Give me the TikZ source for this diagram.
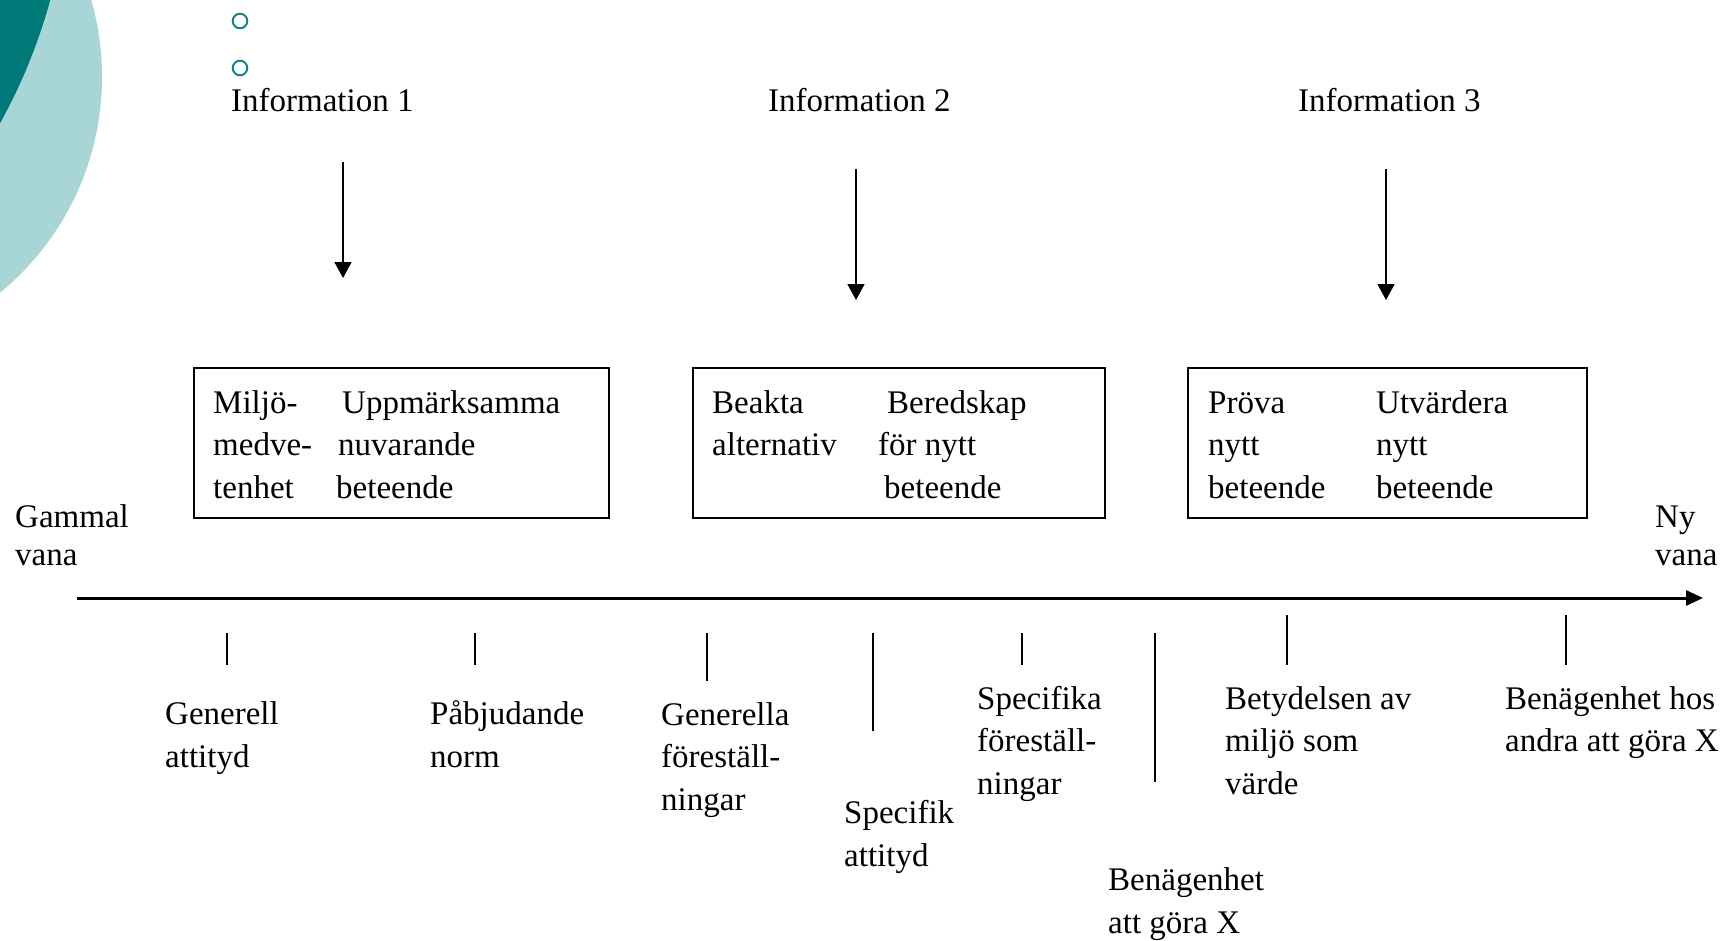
\documentclass[tikz,border=0pt]{standalone}
\usepackage{fontspec}
\setmainfont{Liberation Serif}
\usepackage{xcolor}
\usepackage{tikz}
\usetikzlibrary{arrows.meta}
\definecolor{darkteal}{RGB}{0,122,120}
\definecolor{lightteal}{RGB}{168,214,214}
\definecolor{ringteal}{RGB}{20,136,136}
\tikzset{%
  every word/.style={
    inner sep=0pt,
    anchor=base west,
    align=left,
    font=\fontsize{33}{42.5}\selectfont
  },
  vana word/.style={
    every word,
    font=\fontsize{33}{38}\selectfont
  },
  stage box/.style={
    draw,
    line width=2.4pt,
    anchor=north west,
    inner sep=0pt,
    minimum height=150pt
  },
  bullet ring/.style={
    circle,
    draw=ringteal,
    line width=2pt,
    inner sep=0pt,
    minimum size=14.6pt
  },
  tick mark/.style={
    line width=2pt
  },
}

\begin{document}
\begin{tikzpicture}[x=1pt,y=-1pt]
    \useasboundingbox (0,0) rectangle (1728,941);
    \fill[white] (0,0) rectangle (1728,941);
    \begin{scope}
      \clip (0,0) rectangle (1728,941);
      \fill[lightteal] (-177,77) circle[radius=279pt];
      \fill[darkteal] (-490,-148) circle[radius=560pt];
    \end{scope}

    \node (dot1) [bullet ring] at (240,21) {};
    \node (dot2) [bullet ring] at (240,68) {};

    \node (info1) [every word] at (231,112) {Information 1};
    \node (info2) [every word] at (768,112) {Information 2};
    \node (info3) [every word] at (1298,112) {Information 3};

    \coordinate (in1) at (343,162);
    \coordinate (out1) at (343,278);
    \coordinate (in2) at (856,169);
    \coordinate (out2) at (856,300);
    \coordinate (in3) at (1386,169);
    \coordinate (out3) at (1386,300);

    \draw   [line width=1.8pt,-{Triangle[length=16pt,width=17pt]}] (in1)--(out1);
    \draw   [line width=1.8pt,-{Triangle[length=16pt,width=17pt]}] (in2)--(out2);
    \draw   [line width=1.8pt,-{Triangle[length=16pt,width=17pt]}] (in3)--(out3);

    % the three stages (text nodes sit on the baseline of their last line)
    \node (box1) [stage box,minimum width=415pt] at (193,367) {};
    \node (box2) [stage box,minimum width=412pt] at (692,367) {};
    \node (box3) [stage box,minimum width=399pt] at (1187,367) {};

    \node (aware) [every word] at (213,498) {Miljö-\\medve-\\tenhet};
    \node (notice) [every word] at (336,498) 
    {\hspace{6pt}Uppmärksamma\\\hspace{2pt}nuvarande\\beteende};
    \node (consider) [every word] at (712,455.5) {Beakta\\alternativ};
    \node (ready) [every word] at (878,498) 
    {\hspace{9pt}Beredskap\\för nytt\\\hspace{6pt}beteende};
    \node (try) [every word] at (1208,498) {Pröva\\nytt\\beteende};
    \node (judge) [every word] at (1376,498) {Utvärdera\\nytt\\beteende};

    \node (oldhabit) [vana word] at (15,565) {Gammal\\vana};
    \node (newhabit) [vana word] at (1655,565) {Ny\\vana};

    \coordinate (start) at (77,598);
    \coordinate (end) at (1703,598);
    \draw   [line width=3pt,-{Triangle[length=17pt,width=15pt]}] (start)--(end);

    % ticks under the time line
    \draw   [tick mark] (227,633)--(227,665);
    \draw   [tick mark] (475,633)--(475,665);
    \draw   [tick mark] (707,633)--(707,681);
    \draw   [tick mark] (873,633)--(873,731);
    \draw   [tick mark] (1022,633)--(1022,665);
    \draw   [tick mark] (1155,633)--(1155,782);
    \draw   [tick mark] (1287,615)--(1287,665);
    \draw   [tick mark] (1566,615)--(1566,665);

    \node (genatt) [every word] at (165,767) {Generell\\attityd};
    \node (norm) [every word] at (430,767) {Påbjudande\\norm};
    \node (genbel) [every word] at (661,810) {Generella\\föreställ-\\ningar};
    \node (specatt) [every word] at (844,866) {Specifik\\attityd};
    \node (specbel) [every word] at (977,794) {Specifika\\föreställ-\\ningar};
    \node (intent) [every word] at (1108,933) {Benägenhet\\att göra X};
    \node (value) [every word] at (1225,794) {Betydelsen av\\miljö som\\värde};
    \node (others) [every word] at (1505,751.5) {Benägenhet hos\\andra att göra X};
\end{tikzpicture}
\end{document}
